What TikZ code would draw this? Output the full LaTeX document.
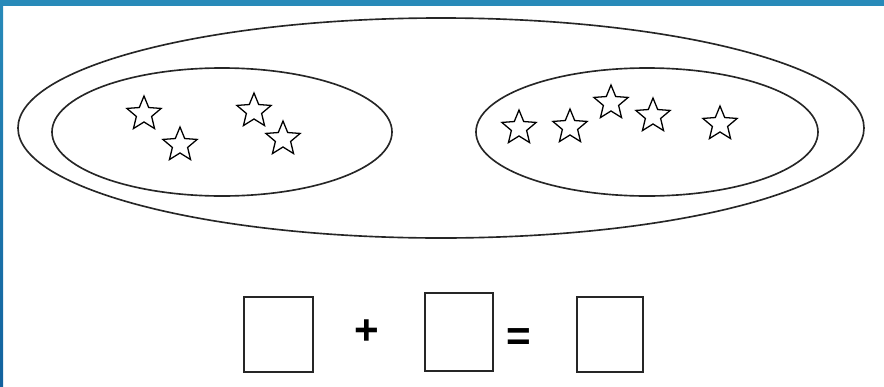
\documentclass[tikz,border=0pt]{standalone}
\usepackage{fontspec}
\setmainfont{Liberation Sans}
\usetikzlibrary{shapes.geometric}
\definecolor{barblue}{RGB}{40,138,185}
\definecolor{bardeep}{RGB}{18,98,158}
\tikzset{
  setline/.style={black!85, line width=1.4pt},
  starmark/.style={star, star points=5, star point ratio=2.25, draw=black, line width=1.1pt, inner sep=0pt, minimum size=1.08cm},
  answerbox/.style={draw=black!85, line width=1.5pt, inner sep=0pt},
  signmark/.style={font=\fontsize{36}{36}\selectfont\bfseries, inner sep=0pt}
}
\begin{document}
\begin{tikzpicture}[x=0.03cm, y=-0.03cm]
\useasboundingbox (0,0) rectangle (884,387);
% frame strips
\fill[barblue] (0,0) rectangle (884,6);
\shade[top color=barblue, bottom color=bardeep] (0,0) rectangle (3,387);
% the three sets
\draw[setline] (441,128) ellipse [x radius=423, y radius=110];
\draw[setline] (222,132) ellipse [x radius=170, y radius=64];
\draw[setline] (647,132) ellipse [x radius=171, y radius=64];
% stars of the left set
\node[starmark] (l1) at (144,114) {};
\node[starmark] (l2) at (180,145) {};
\node[starmark] (l3) at (254,111) {};
\node[starmark] (l4) at (283,139) {};
% stars of the right set
\node[starmark] (r1) at (519,128) {};
\node[starmark] (r2) at (570,127) {};
\node[starmark] (r3) at (611,103) {};
\node[starmark] (r4) at (653,116) {};
\node[starmark] (r5) at (720,124) {};
% sum
\node[answerbox, minimum width=2.07cm, minimum height=2.25cm] (first) at (278.5,334.5) {};
\node[signmark] (plus) at (367,332) {+};
\node[answerbox, minimum width=2.04cm, minimum height=2.34cm] (second) at (459,332) {};
\node[signmark] (equals) at (519,340) {=};
\node[answerbox, minimum width=1.98cm, minimum height=2.25cm] (total) at (610,334.5) {};
\end{tikzpicture}
\end{document}
